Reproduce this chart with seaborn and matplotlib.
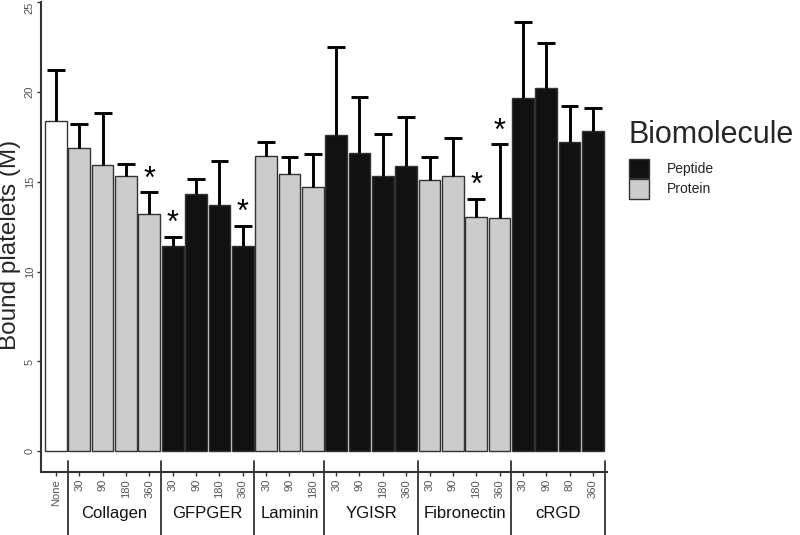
import numpy as np
import pandas as pd
import matplotlib
matplotlib.use("Agg")
import matplotlib.pyplot as plt
from matplotlib.patches import Patch
import seaborn as sns

groups = ["None", "Collagen", "GFPGER", "Laminin", "YGISR", "Fibronectin", "cRGD"]
group_sizes = [1, 4, 4, 3, 4, 4, 4]
times = ["None", "30", "90", "180", "360", "30", "90", "180", "360",
         "30", "90", "180", "30", "90", "180", "360",
         "30", "90", "180", "360", "30", "90", "80", "360"]
biomolecule = (["None"] + ["Protein"] * 4 + ["Peptide"] * 4 + ["Protein"] * 3
               + ["Peptide"] * 4 + ["Protein"] * 4 + ["Peptide"] * 4)
means = [18.4, 16.9, 15.95, 15.3, 13.2, 11.45, 14.3, 13.7, 11.4,
         16.45, 15.45, 14.7, 17.6, 16.6, 15.3, 15.9,
         15.1, 15.3, 13.05, 13.0, 19.65, 20.2, 17.2, 17.8]
upper = [21.2, 18.2, 18.8, 16.0, 14.4, 11.95, 15.15, 16.15, 12.55,
         17.2, 16.4, 16.55, 22.5, 19.7, 17.65, 18.6,
         16.4, 17.45, 14.05, 17.1, 23.9, 22.7, 19.2, 19.1]
signif = [False, False, False, False, True, True, False, False, True,
          False, False, False, False, False, False, False,
          False, False, True, True, False, False, False, False]

bar_group = np.repeat(groups, group_sizes)
df = pd.DataFrame({"group": bar_group, "time": times, "Biomolecule": biomolecule,
                   "mean": means, "upper": upper, "signif": signif})
df["bar"] = df["group"] + "_" + df["time"] + "_" + df.index.astype(str)

sns.set_theme(style="white")
plt.rcParams["font.family"] = ["Liberation Sans", "DejaVu Sans"]

palette = {"None": "#ffffff", "Protein": "#cccccc", "Peptide": "#111111"}

fig = plt.figure(figsize=(8, 5.35), dpi=100)
ax = fig.add_axes([0.05125, 0.1178, 0.70775, 0.8785])

sns.barplot(data=df, x="bar", y="mean", hue="Biomolecule", palette=palette,
            order=df["bar"], dodge=False, width=0.93, edgecolor="#333333",
            linewidth=1.0, legend=False, ax=ax)

x = np.arange(len(df))
ax.vlines(x, df["mean"], df["upper"], color="black", linewidth=2.1, zorder=3)
ax.hlines(df["upper"], x - 0.38, x + 0.38, color="black", linewidth=2.1, zorder=3)

for xi, up, s in zip(x, df["upper"], df["signif"]):
    if s:
        ax.text(xi, up + 0.25, "*", ha="center", va="baseline", fontsize=22,
                color="black")

ax.set_xlim(-0.64, 23.61)
ax.set_ylim(-1.15, 25)
ax.set_yticks([0, 5, 10, 15, 20, 25])
ax.set_yticklabels(["0", "5", "10", "15", "20", "25"], rotation=90, va="center",
                   color="#555555", fontsize=8)
ax.get_yticklabels()[-1].set_va("top")
ax.set_xticks(x)
ax.set_xticklabels(df["time"], rotation=90, color="#555555", fontsize=8)
ax.tick_params(axis="both", length=3, width=1, color="#333333", direction="out",
               left=True, bottom=True, pad=2)
ax.tick_params(axis="y", pad=1.5)
ax.set_xlabel("")
ax.set_ylabel("Bound platelets (M)", fontsize=17.5)
ax.yaxis.set_label_coords(-0.036, 0.484)

for sp in ["top", "right"]:
    ax.spines[sp].set_visible(False)
for sp in ["left", "bottom"]:
    ax.spines[sp].set_color("#333333")
    ax.spines[sp].set_linewidth(1.5)

# group separators and group labels below the axis
trans = ax.get_xaxis_transform()
edges = np.cumsum(group_sizes) - 0.5
for e in edges:
    ax.plot([e, e], [0.0234, -0.14], transform=trans, color="#333333",
            linewidth=1.3, clip_on=False)
starts = np.concatenate([[0], np.cumsum(group_sizes)[:-1]])
for g, st, n in zip(groups, starts, group_sizes):
    if g == "None":
        continue
    ax.text(st + (n - 1) / 2, -0.088, g, transform=trans, ha="center",
            va="center", fontsize=12, color="#111111")

handles = [Patch(facecolor=palette["Peptide"], edgecolor="#333333", label="Peptide"),
           Patch(facecolor=palette["Protein"], edgecolor="#333333", label="Protein")]
leg = fig.legend(handles=handles, title="Biomolecule", loc="upper left",
                 bbox_to_anchor=(0.786, 0.775), frameon=False, fontsize=10,
                 title_fontsize=22, handlelength=1.45, handleheight=1.75,
                 handletextpad=1.3, labelspacing=0.1, borderpad=0,
                 borderaxespad=0)
leg._legend_box.align = "left"
leg._legend_box.sep = 6

fig.savefig("out.png", dpi=100)
